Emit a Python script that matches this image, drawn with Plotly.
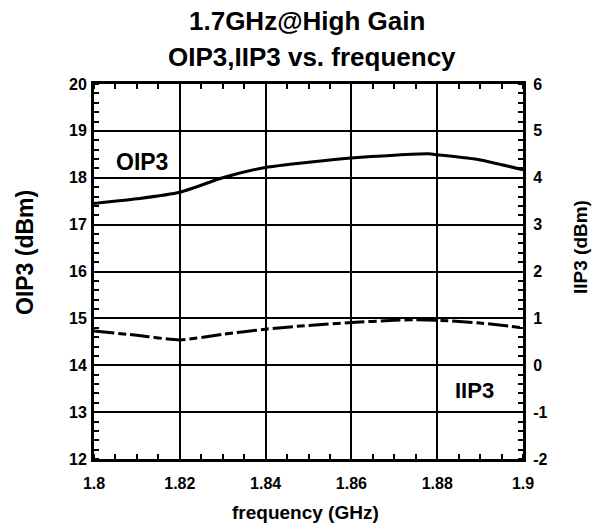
import plotly.graph_objects as go

freq = [1.80, 1.81, 1.82, 1.83, 1.84, 1.85, 1.86, 1.87, 1.878, 1.88, 1.89, 1.90]
oip3 = [17.45, 17.55, 17.69, 18.0, 18.22, 18.33, 18.42, 18.48, 18.51, 18.49, 18.38, 18.17]
iip3_freq = [1.80, 1.81, 1.82, 1.83, 1.84, 1.85, 1.86, 1.87, 1.875, 1.88, 1.89, 1.90]
iip3 = [0.73, 0.64, 0.54, 0.66, 0.77, 0.85, 0.91, 0.96, 0.97, 0.96, 0.90, 0.80]

x_ticks = [1.8, 1.82, 1.84, 1.86, 1.88, 1.9]
x_tick_text = ["1.8", "1.82", "1.84", "1.86", "1.88", "1.9"]
y_left_ticks = [12, 13, 14, 15, 16, 17, 18, 19, 20]
y_right_ticks = [-2, -1, 0, 1, 2, 3, 4, 5, 6]
y_right_text = ["-2", "-1", "0", "1", "2", "3", "4", "5", "6"]

FONT = "Liberation Sans"
L, T, PW, PH = 94, 84, 429, 375
W, H = 595, 531

fig = go.Figure()
fig.add_trace(go.Scatter(x=freq, y=oip3, mode="lines",
                         line=dict(color="black", width=3, shape="spline", smoothing=0.6),
                         showlegend=False))
fig.add_trace(go.Scatter(x=iip3_freq, y=iip3, mode="lines", yaxis="y2",
                         line=dict(color="black", width=3, dash="20px,4px,8px,4px", shape="spline", smoothing=0.6),
                         showlegend=False))

tickfont = dict(family=FONT, size=16, color="black", weight="bold")
minor_common = dict(ticks="inside", ticklen=5, tickwidth=2, tickcolor="black", showgrid=False)
fig.update_layout(
    width=W, height=H,
    margin=dict(l=L, r=W - L - PW, t=T, b=H - T - PH),
    paper_bgcolor="white", plot_bgcolor="white",
    font=dict(family=FONT, color="black"),
    xaxis=dict(range=[1.8, 1.9], tickvals=x_ticks, ticktext=x_tick_text, tickfont=tickfont,
               showgrid=True, gridcolor="black", gridwidth=2, zeroline=False,
               showline=True, linecolor="black", linewidth=3, mirror="allticks",
               ticks="", ticklen=0, ticklabelstandoff=8,
               minor=dict(dtick=0.005, tick0=1.8, **minor_common)),
    yaxis=dict(range=[12, 20], tickvals=y_left_ticks, tickfont=tickfont,
               showgrid=True, gridcolor="black", gridwidth=2, zeroline=False,
               showline=True, linecolor="black", linewidth=3, ticks="", ticklen=0,
               ticklabelstandoff=1,
               minor=dict(dtick=0.2, tick0=12, **minor_common)),
    yaxis2=dict(range=[-2, 6], tickvals=y_right_ticks, ticktext=y_right_text, tickfont=tickfont,
                overlaying="y", side="right",
                showgrid=False, zeroline=False, showline=True, linecolor="black", linewidth=3,
                ticks="", ticklen=0, ticklabelstandoff=4,
                minor=dict(dtick=0.2, tick0=-2, **minor_common)),
)

bold = dict(family=FONT, color="black", weight="bold")


def px(xs):
    return (xs - L) / PW


def py(ys):
    return (T + PH - ys) / PH


def add_text(text, x, y, size, angle=0):
    fig.add_annotation(text=text, xref="paper", yref="paper", x=px(x), y=py(y),
                       xanchor="center", yanchor="middle", showarrow=False,
                       textangle=angle, font=dict(size=size, **bold))


add_text("1.7GHz@High Gain", 307, 21, 26)
add_text("OIP3,IIP3 vs. frequency", 312, 57, 26)
add_text("frequency (GHz)", 305, 512, 19)
add_text("OIP3 (dBm)", 25, 253, 23, -90)
add_text("IIP3 (dBm)", 580, 247, 19, -90)
add_text("OIP3", 142, 162, 23)
add_text("IIP3", 474, 390, 22)

fig.write_html("out.html", config={"displayModeBar": False},
               post_script="document.body.style.margin='0px';")
